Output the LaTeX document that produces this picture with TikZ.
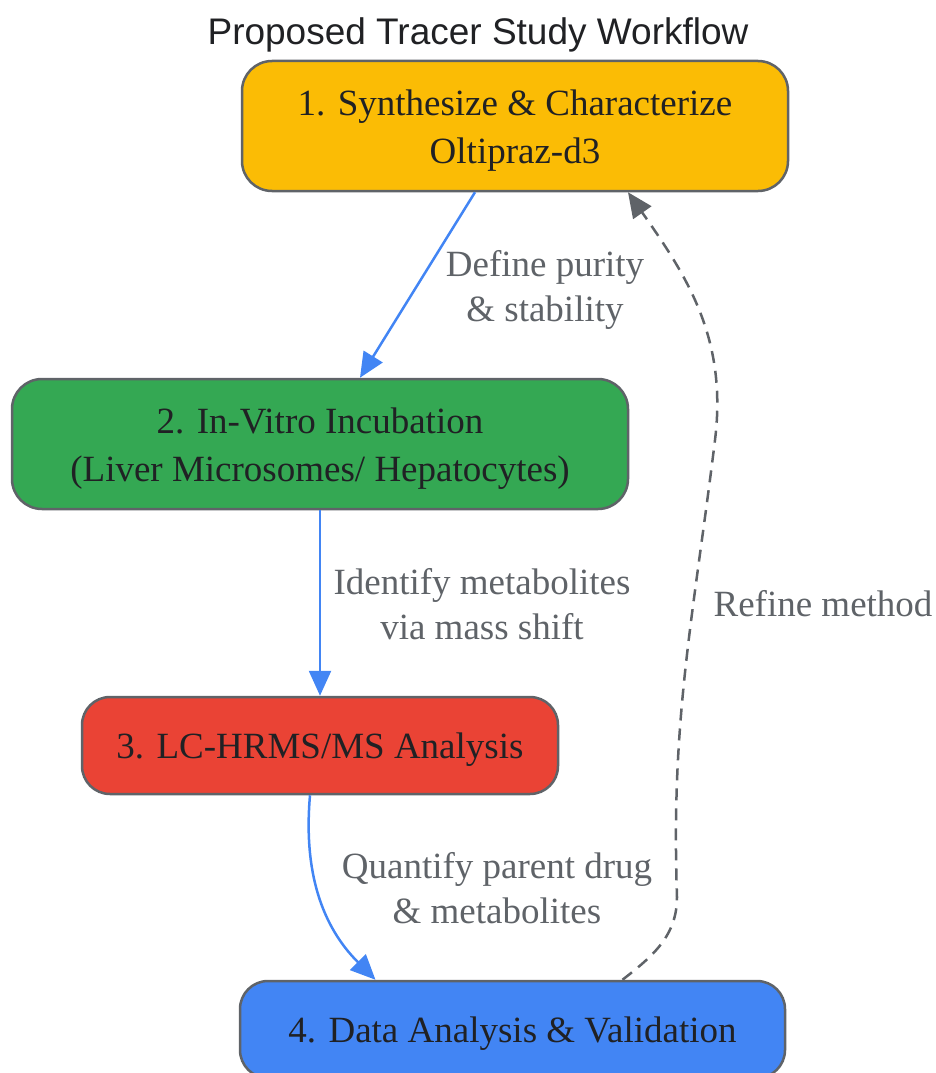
\documentclass[tikz,border=0pt]{standalone}
\usepackage{fontspec}
\setmainfont{Liberation Serif}
\newfontfamily\titlefont{Liberation Sans}
\usetikzlibrary{arrows.meta}
\definecolor{gyellow}{HTML}{FBBC05}
\definecolor{ggreen}{HTML}{34A853}
\definecolor{gred}{HTML}{EA4335}
\definecolor{gblue}{HTML}{4285F4}
\definecolor{ggray}{HTML}{5F6368}
\definecolor{gtext}{HTML}{202124}
\begin{document}
\begin{tikzpicture}[x=1pt,y=-1pt,
  box/.style={draw=ggray, line width=2.5pt, rounded corners=30pt, text=gtext, align=center, font=\fontsize{37}{48}\selectfont, execute at begin node=\rule{0pt}{#1}},
  box/.default=34pt,
  flow/.style={draw=gblue, line width=2.5pt, -{Triangle[length=25pt,width=22pt]}},
  back/.style={draw=ggray, line width=2.5pt, dash pattern=on 12pt off 8pt, -{Triangle[length=25pt,width=22pt]}},
  lbl/.style={text=ggray, align=center, font=\fontsize{37}{45}\selectfont}]
\useasboundingbox (0,0) rectangle (935,1073);
\node[text=gtext, font=\titlefont\fontsize{37}{40}\selectfont] (title) at (478,35) {Proposed Tracer Study Workflow};
\node[box=83pt, fill=gyellow, minimum width=546pt, minimum height=130pt] (synth) at (515,126) {1. Synthesize \& Characterize\\Oltipraz-d3};
\node[box=83pt, fill=ggreen, minimum width=616pt, minimum height=130pt] (incub) at (320,444) {2. In-Vitro Incubation\\(Liver Microsomes/ Hepatocytes)};
\node[box, fill=gred, minimum width=476pt, minimum height=97pt, rounded corners=28pt] (lcms) at (320,745.5) {3. LC-HRMS/MS Analysis};
\node[box, fill=gblue, minimum width=545pt, minimum height=97pt, rounded corners=28pt] (data) at (512.5,1029.5) {4. Data Analysis \& Validation};
\coordinate (r1) at (677,897);
\coordinate (r2) at (715,440);
\draw[flow] ([xshift=-40pt]synth.south) -- ([xshift=40pt]incub.north);
\draw[flow] (incub.south) -- (lcms.north);
\draw[flow] ([xshift=-10pt]lcms.south) to[out=-95,in=135] ([xshift=-137pt]data.north);
\draw[back] ([xshift=110pt]data.north) to[out=38,in=-90] (r1) to[out=92,in=-97] (r2) to[out=83,in=-55] ([xshift=113pt]synth.south);
\node[lbl] (purity) at (545,290) {Define purity\\\& stability};
\node[lbl] (ident) at (482,604) {Identify metabolites\\via mass shift};
\node[lbl] (quant) at (497,888) {Quantify parent drug\\\& metabolites};
\node[lbl] (refine) at (823,604) {Refine method};
\end{tikzpicture}
\end{document}
